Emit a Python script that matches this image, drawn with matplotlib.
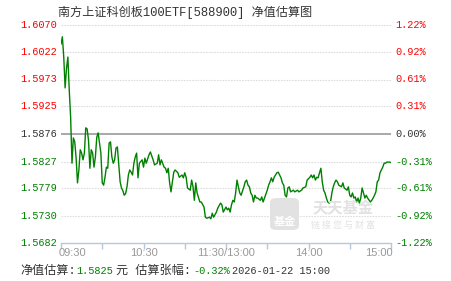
import matplotlib
matplotlib.use("Agg")
import matplotlib.pyplot as plt
from matplotlib.patches import FancyBboxPatch

plt.rcParams["font.family"] = ["Noto Sans CJK SC", "DejaVu Sans"]

titleText = "南方上证科创板100ETF[588900] 净值估算图"
basePrice = 1.5876
priceTicks = [1.6070, 1.6022, 1.5973, 1.5925, 1.5876, 1.5827, 1.5779, 1.5730, 1.5682]
pctLabels = ["1.22%", "0.92%", "0.61%", "0.31%", "0.00%", "-0.31%", "-0.61%", "-0.92%", "-1.22%"]
timeTicks = [0, 60, 120, 180, 240]
timeLabels = ["09:30", "10:30", "11:30/13:00", "14:00", "15:00"]

# minutes since 09:30 (lunch break removed)
minutes = [
    0, 1, 2, 3, 4, 5, 6, 7, 8, 9,
    10, 11, 12, 13, 14, 15, 16, 17, 18, 19,
    20, 21, 22, 23, 24, 25, 26, 27, 28, 29,
    30, 31, 32, 33, 34, 35, 36, 37, 38, 39,
    40, 41, 42, 43, 44, 45, 46, 47, 48, 49,
    50, 51, 52, 53, 54, 55, 56, 57, 59, 60,
    61, 62, 64, 65, 67, 68, 70, 71, 72, 73,
    75, 76, 77, 78, 79, 80, 82, 83, 85, 86,
    88, 89, 90, 91, 92, 94, 95, 96, 97, 98,
    99, 101, 102, 104, 105, 106, 108, 109, 110, 111,
    113, 114, 116, 117, 118, 120, 121, 122, 123, 124,
    125, 126, 127, 128, 129, 130, 131, 133, 134, 135,
    136, 137, 138, 139, 140, 141, 142, 143, 145, 146,
    147, 148, 150, 151, 152, 153, 154, 155, 157, 158,
    159, 160, 161, 162, 163, 164, 165, 166, 167, 169,
    170, 172, 173, 175, 176, 178, 179, 181, 182, 183,
    184, 185, 186, 187, 188, 189, 190, 191, 192, 193,
    194, 195, 196, 197, 198, 199, 200, 201, 202, 204,
    205, 206, 208, 209, 210, 211, 212, 213, 214, 215,
    216, 217, 218, 219, 220, 221, 222, 223, 225, 226,
    227, 228, 229, 230, 231, 232, 233, 234, 235, 236,
    237, 239, 240,
]
navEstimate = [
    1.6036, 1.6049, 1.6013, 1.5958, 1.5993, 1.6013, 1.5954, 1.5906, 1.5824, 1.5869,
    1.5862, 1.5833, 1.5789, 1.5812, 1.5848, 1.5842, 1.5830, 1.5842, 1.5887, 1.5885,
    1.5865, 1.5815, 1.5848, 1.5842, 1.5817, 1.5835, 1.5870, 1.5878, 1.5860, 1.5842,
    1.5789, 1.5785, 1.5799, 1.5817, 1.5815, 1.5860, 1.5862, 1.5835, 1.5824, 1.5830,
    1.5851, 1.5853, 1.5821, 1.5791, 1.5780, 1.5775, 1.5767, 1.5770, 1.5782, 1.5803,
    1.5812, 1.5808, 1.5803, 1.5824, 1.5835, 1.5842, 1.5798, 1.5824, 1.5830, 1.5817,
    1.5833, 1.5824, 1.5839, 1.5844, 1.5830, 1.5821, 1.5824, 1.5839, 1.5821, 1.5830,
    1.5817, 1.5815, 1.5807, 1.5815, 1.5789, 1.5773, 1.5808, 1.5812, 1.5807, 1.5799,
    1.5803, 1.5798, 1.5807, 1.5799, 1.5780, 1.5776, 1.5794, 1.5782, 1.5758, 1.5789,
    1.5771, 1.5755, 1.5755, 1.5746, 1.5728, 1.5726, 1.5728, 1.5725, 1.5735, 1.5728,
    1.5737, 1.5744, 1.5753, 1.5750, 1.5737, 1.5746, 1.5741, 1.5744, 1.5737, 1.5750,
    1.5758, 1.5755, 1.5771, 1.5794, 1.5782, 1.5771, 1.5767, 1.5782, 1.5791, 1.5794,
    1.5785, 1.5782, 1.5771, 1.5767, 1.5755, 1.5767, 1.5762, 1.5762, 1.5758, 1.5764,
    1.5755, 1.5762, 1.5776, 1.5785, 1.5791, 1.5798, 1.5791, 1.5799, 1.5807, 1.5808,
    1.5803, 1.5798, 1.5789, 1.5785, 1.5767, 1.5764, 1.5780, 1.5782, 1.5773, 1.5776,
    1.5773, 1.5776, 1.5773, 1.5776, 1.5780, 1.5782, 1.5794, 1.5799, 1.5803, 1.5798,
    1.5803, 1.5794, 1.5799, 1.5798, 1.5807, 1.5815, 1.5791, 1.5776, 1.5771, 1.5762,
    1.5755, 1.5753, 1.5755, 1.5771, 1.5782, 1.5789, 1.5794, 1.5791, 1.5785, 1.5782,
    1.5789, 1.5780, 1.5776, 1.5782, 1.5767, 1.5764, 1.5771, 1.5762, 1.5764, 1.5755,
    1.5762, 1.5753, 1.5762, 1.5780, 1.5771, 1.5762, 1.5767, 1.5762, 1.5755, 1.5758,
    1.5762, 1.5767, 1.5773, 1.5791, 1.5794, 1.5807, 1.5812, 1.5817, 1.5824, 1.5824,
    1.5826, 1.5826, 1.5825,
]

lastNav = "1.5825"
lastPct = "-0.32%"
stampText = "2026-01-22 15:00"

red = "#ff0000"
green = "#008000"
dark = "#333333"
mono = ["Liberation Mono", "Noto Sans CJK SC"]

fig = plt.figure(figsize=(4.51, 2.81), dpi=100)
fig.patch.set_facecolor("white")
ax = fig.add_axes([61 / 451, 38 / 281, 330 / 451, 218 / 281])
ax.set_xlim(0, 240)
ax.set_ylim(priceTicks[-1], priceTicks[0])
ax.set_facecolor("none")

# watermark (天天基金)
box = FancyBboxPatch((270 / 451, 51 / 281), 29 / 451, 32 / 281,
                     boxstyle="round,pad=0,rounding_size=0.015",
                     transform=fig.transFigure, facecolor="#e2e2e2",
                     edgecolor="none", zorder=0)
fig.patches.append(box)
fig.text(284.5 / 451, 59 / 281, "基金", color="white", fontsize=8,
         fontweight="bold", ha="center", va="center", zorder=1)
fig.text(343 / 451, 73 / 281, "天天基金", color="#e2e2e2", fontsize=11,
         fontweight="bold", ha="center", va="center", zorder=1)
fig.text(343 / 451, 56 / 281, "链 接 您 与 财 富", color="#e2e2e2", fontsize=6.5,
         ha="center", va="center", zorder=1)

for p in priceTicks[:-1]:
    if p == basePrice:
        ax.axhline(p, color="#999999", lw=1.2, zorder=1)
    else:
        ax.axhline(p, color="#dddddd", lw=0.8, ls=(0, (1.5, 1)), zorder=1)

ax.plot(minutes, navEstimate, color=green, lw=1.0, zorder=3)

for spine in ["top", "left", "right"]:
    ax.spines[spine].set_visible(False)
ax.spines["bottom"].set_color("#b8c8d8")
ax.spines["bottom"].set_linewidth(1.0)
ax.set_yticks([])
ax.set_xticks(list(range(0, 241, 30)))
ax.set_xticklabels([])
ax.tick_params(axis="x", length=4, color="#b8c8d8", width=1.0, direction="out")

for i, (t, lab) in enumerate(zip(timeTicks, timeLabels)):
    ha = "left" if i == 0 else ("right" if i == len(timeTicks) - 1 else "center")
    dx = -2 if i == 0 else (2 if i == len(timeTicks) - 1 else 0)
    ax.annotate(lab, xy=(t, 0), xycoords=("data", "axes fraction"),
                xytext=(dx, -5), textcoords="offset pixels",
                ha=ha, va="top", color="#999999", fontsize=8,
                family=["Liberation Sans"])

# y labels: price on the left, percent on the right
for p, pct in zip(priceTicks, pctLabels):
    if p > basePrice:
        c = red
    elif p < basePrice:
        c = green
    else:
        c = dark
    ax.text(-0.012, p, f"{p:.4f}", transform=ax.get_yaxis_transform(),
            ha="right", va="center", color=c, fontsize=7.4, family=mono)
    ax.text(1.012, p, pct, transform=ax.get_yaxis_transform(),
            ha="left", va="center", color=c, fontsize=7.4, family=mono)

fig.text(58 / 451, 1 - 12 / 281, titleText, ha="left", va="center",
         color=dark, fontsize=8.7, family=mono)

yb = 1 - 271 / 281
fig.text(20 / 451, yb, "净值估算:", ha="left", va="center", color=dark, fontsize=8.7, family=mono)
fig.text(76 / 451, yb, lastNav, ha="left", va="center", color=green, fontsize=7.4, family=mono)
fig.text(116 / 451, yb, "元 估算张幅:", ha="left", va="center", color=dark, fontsize=8.7, family=mono)
fig.text(193 / 451, yb, lastPct, ha="left", va="center", color=green, fontsize=7.4, family=mono)
fig.text(232 / 451, yb, stampText, ha="left", va="center", color=dark, fontsize=7.4, family=mono)

fig.savefig("out.png", dpi=100)
